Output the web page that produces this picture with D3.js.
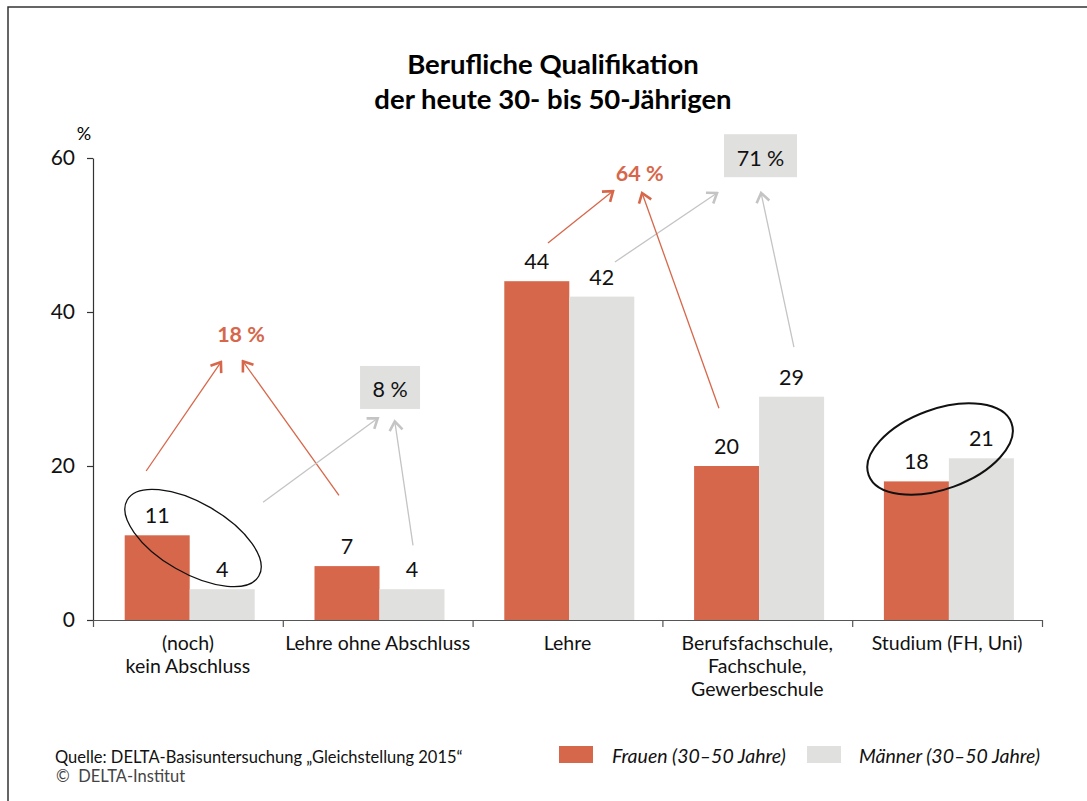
<!DOCTYPE html>
<html>
<head>
<meta charset="utf-8">
<script src="https://cdn.jsdelivr.net/npm/d3@7"></script>
<style>
  body { margin: 0; background: #fff; }
  svg { font-family: Lato, "Open Sans", sans-serif; }
</style>
</head>
<body>
<svg id="chart" width="1087" height="801"></svg>
<script>
// data
var categories = ["(noch)|kein Abschluss", "Lehre ohne Abschluss", "Lehre",
  "Berufsfachschule,|Fachschule,|Gewerbeschule", "Studium (FH, Uni)"];
var frauen = [11, 7, 44, 20, 18];
var maenner = [4, 4, 42, 29, 21];
var seriesNames = ["Frauen (30–50 Jahre)", "Männer (30–50 Jahre)"];
var yTicks = [0, 20, 40, 60];

// annotations in chart units: u = category position (0..5), v = percent
var sumLabels = [
  { text: "18 %", u: 0.78, v: 36.1, boxed: false },
  { text: "8 %", u: 1.565, v: 28.95, boxed: true, bv: 30.2 },
  { text: "64 %", u: 2.88, v: 57.0, boxed: false },
  { text: "71 %", u: 3.517, v: 58.95, boxed: true, bv: 60.3 }
];
var arrows = [
  { s: "f", u1: 0.28, v1: 19.35, u2: 0.674, v2: 33.5 },
  { s: "f", u1: 1.296, v1: 16.2, u2: 0.79, v2: 33.6 },
  { s: "m", u1: 0.896, v1: 15.3, u2: 1.50, v2: 26.2 },
  { s: "m", u1: 1.686, v1: 9.7, u2: 1.59, v2: 25.8 },
  { s: "f", u1: 2.397, v1: 48.96, u2: 2.74, v2: 55.7 },
  { s: "m", u1: 2.75, v1: 46.5, u2: 3.288, v2: 55.45 },
  { s: "f", u1: 3.298, v1: 27.5, u2: 2.893, v2: 55.45 },
  { s: "m", u1: 3.693, v1: 35.45, u2: 3.52, v2: 55.45 }
];
var rings = [
  { u: 0.527, v: 10.65, rx: 76, ry: 35, rot: 30, w: 1.3 },
  { u: 4.463, v: 22.2, rx: 76, ry: 40, rot: -20, w: 2 }
];

var colF = "#d7674a", colM = "#e0e0df", arrowM = "#c4c4c4";

var svg = d3.select("#chart");

// frame
svg.append("path")
  .attr("d", "M8,801 L8,7 L1087,7")
  .attr("fill", "none").attr("stroke", "#333").attr("stroke-width", 1.5);

// title
svg.append("text").attr("x", 553).attr("y", 74).attr("text-anchor", "middle")
  .style("font-size", "27.5px").style("font-weight", "bold")
  .text("Berufliche Qualifikation");
svg.append("text").attr("x", 553).attr("y", 109).attr("text-anchor", "middle")
  .style("font-size", "27.5px").style("font-weight", "bold")
  .text("der heute 30- bis 50-Jährigen");

var plotLeft = 93, plotRight = 1042, plotTop = 158, plotBottom = 620;

var y = d3.scaleLinear().domain([0, 60]).range([plotBottom, plotTop]);
var xl = d3.scaleLinear().domain([0, 5]).range([plotLeft, plotRight]);
var x0 = d3.scaleBand().domain(categories).range([plotLeft, plotRight]);
var x1 = d3.scaleBand().domain(["f", "m"]).range([0, x0.bandwidth()])
  .paddingInner(0).paddingOuter(0.46).align(0.53);

// y axis
var yAxis = svg.append("g").attr("transform", "translate(" + plotLeft + ",0)")
  .call(d3.axisLeft(y).tickValues(yTicks).tickSize(6).tickSizeOuter(0).tickPadding(12));
yAxis.selectAll("path, line").attr("stroke", "#333").attr("stroke-width", 1.2);
yAxis.selectAll("text").style("font-size", "21px").style("font-family", "Lato").attr("fill", "#111");

svg.append("text").attr("x", 84).attr("y", 140).attr("text-anchor", "middle")
  .style("font-size", "18px").text("%");

// bars
var groups = svg.append("g").selectAll("g").data(categories).join("g")
  .attr("transform", function(d) { return "translate(" + x0(d) + ",0)"; });

groups.each(function(c, i) {
  var g = d3.select(this);
  var vals = [{ k: "f", v: frauen[i] }, { k: "m", v: maenner[i] }];
  g.selectAll("rect").data(vals).join("rect")
    .attr("x", function(d) { return x1(d.k); })
    .attr("width", x1.bandwidth())
    .attr("y", function(d) { return y(d.v); })
    .attr("height", function(d) { return y(0) - y(d.v); })
    .attr("fill", function(d) { return d.k == "f" ? colF : colM; });
  g.selectAll("text.val").data(vals).join("text").attr("class", "val")
    .attr("x", function(d) { return x1(d.k) + x1.bandwidth() / 2; })
    .attr("y", function(d) { return y(d.v) - 12; })
    .attr("text-anchor", "middle").style("font-size", "21.5px").attr("fill", "#111")
    .text(function(d) { return d.v; });
});

// x axis
var xAxis = svg.append("g").attr("transform", "translate(0," + plotBottom + ")")
  .call(d3.axisBottom(xl).tickValues([0, 1, 2, 3, 4, 5]).tickSize(7).tickSizeOuter(0).tickFormat(""));
xAxis.selectAll("path, line").attr("stroke", "#555").attr("stroke-width", 1.2);

categories.forEach(function(c) {
  var t = svg.append("text").attr("text-anchor", "middle").style("font-size", "19.5px").attr("fill", "#111");
  c.split("|").forEach(function(line, j) {
    t.append("tspan").attr("x", x0(c) + x0.bandwidth() / 2).attr("y", 650 + j * 23).text(line);
  });
});

// arrow markers
var defs = svg.append("defs");
[["f", colF], ["m", arrowM]].forEach(function(m) {
  defs.append("marker").attr("id", "head-" + m[0])
    .attr("markerUnits", "userSpaceOnUse").attr("orient", "auto")
    .attr("viewBox", "-12 -8 14 16").attr("markerWidth", 14).attr("markerHeight", 16)
    .attr("refX", 0).attr("refY", 0)
    .append("path").attr("d", "M-9,-6.5 L0,0 L-9,6.5")
    .attr("fill", "none").attr("stroke", m[1]).attr("stroke-width", 2.6)
    .attr("stroke-linejoin", "miter");
});

svg.append("g").selectAll("line").data(arrows).join("line")
  .attr("x1", function(d) { return xl(d.u1); })
  .attr("y1", function(d) { return y(d.v1); })
  .attr("x2", function(d) { return xl(d.u2); })
  .attr("y2", function(d) { return y(d.v2); })
  .attr("stroke", function(d) { return d.s == "f" ? colF : arrowM; })
  .attr("stroke-width", 1.3)
  .attr("marker-end", function(d) { return "url(#head-" + d.s + ")"; });

// sum labels
sumLabels.forEach(function(d) {
  if (d.boxed) {
    var w = d.text.length > 3 ? 73 : 60;
    svg.append("rect").attr("x", xl(d.u) - w / 2).attr("y", y(d.bv) - 21.5)
      .attr("width", w).attr("height", 43).attr("fill", colM);
    svg.append("text").attr("x", xl(d.u)).attr("y", y(d.v)).attr("text-anchor", "middle")
      .style("font-size", "21.5px").attr("fill", "#111").text(d.text);
  } else {
    svg.append("text").attr("x", xl(d.u)).attr("y", y(d.v)).attr("text-anchor", "middle")
      .style("font-size", "21.5px").style("font-weight", "bold").attr("fill", colF).text(d.text);
  }
});

// ellipses
svg.append("g").selectAll("ellipse").data(rings).join("ellipse")
  .attr("transform", function(d) { return "translate(" + xl(d.u) + "," + y(d.v) + ") rotate(" + d.rot + ")"; })
  .attr("rx", function(d) { return d.rx; }).attr("ry", function(d) { return d.ry; })
  .attr("fill", "none").attr("stroke", "#111").attr("stroke-width", function(d) { return d.w; });

// source
svg.append("text").attr("x", 55).attr("y", 763).style("font-size", "16.5px").attr("fill", "#111")
  .text("Quelle: DELTA-Basisuntersuchung „Gleichstellung 2015“");
svg.append("text").attr("x", 56).attr("y", 782).style("font-size", "16.5px").attr("fill", "#444")
  .text("©\u00A0\u00A0DELTA-Institut");

// legend
var leg = [{ c: colF, x: 559, tx: 612 }, { c: colM, x: 807, tx: 859 }];
leg.forEach(function(l, i) {
  svg.append("rect").attr("x", l.x).attr("y", 746).attr("width", 34).attr("height", 17).attr("fill", l.c);
  svg.append("text").attr("x", l.tx).attr("y", 763).style("font-size", "19.5px").style("font-style", "italic")
    .attr("fill", "#111").text(seriesNames[i]);
});
</script>
</body>
</html>
